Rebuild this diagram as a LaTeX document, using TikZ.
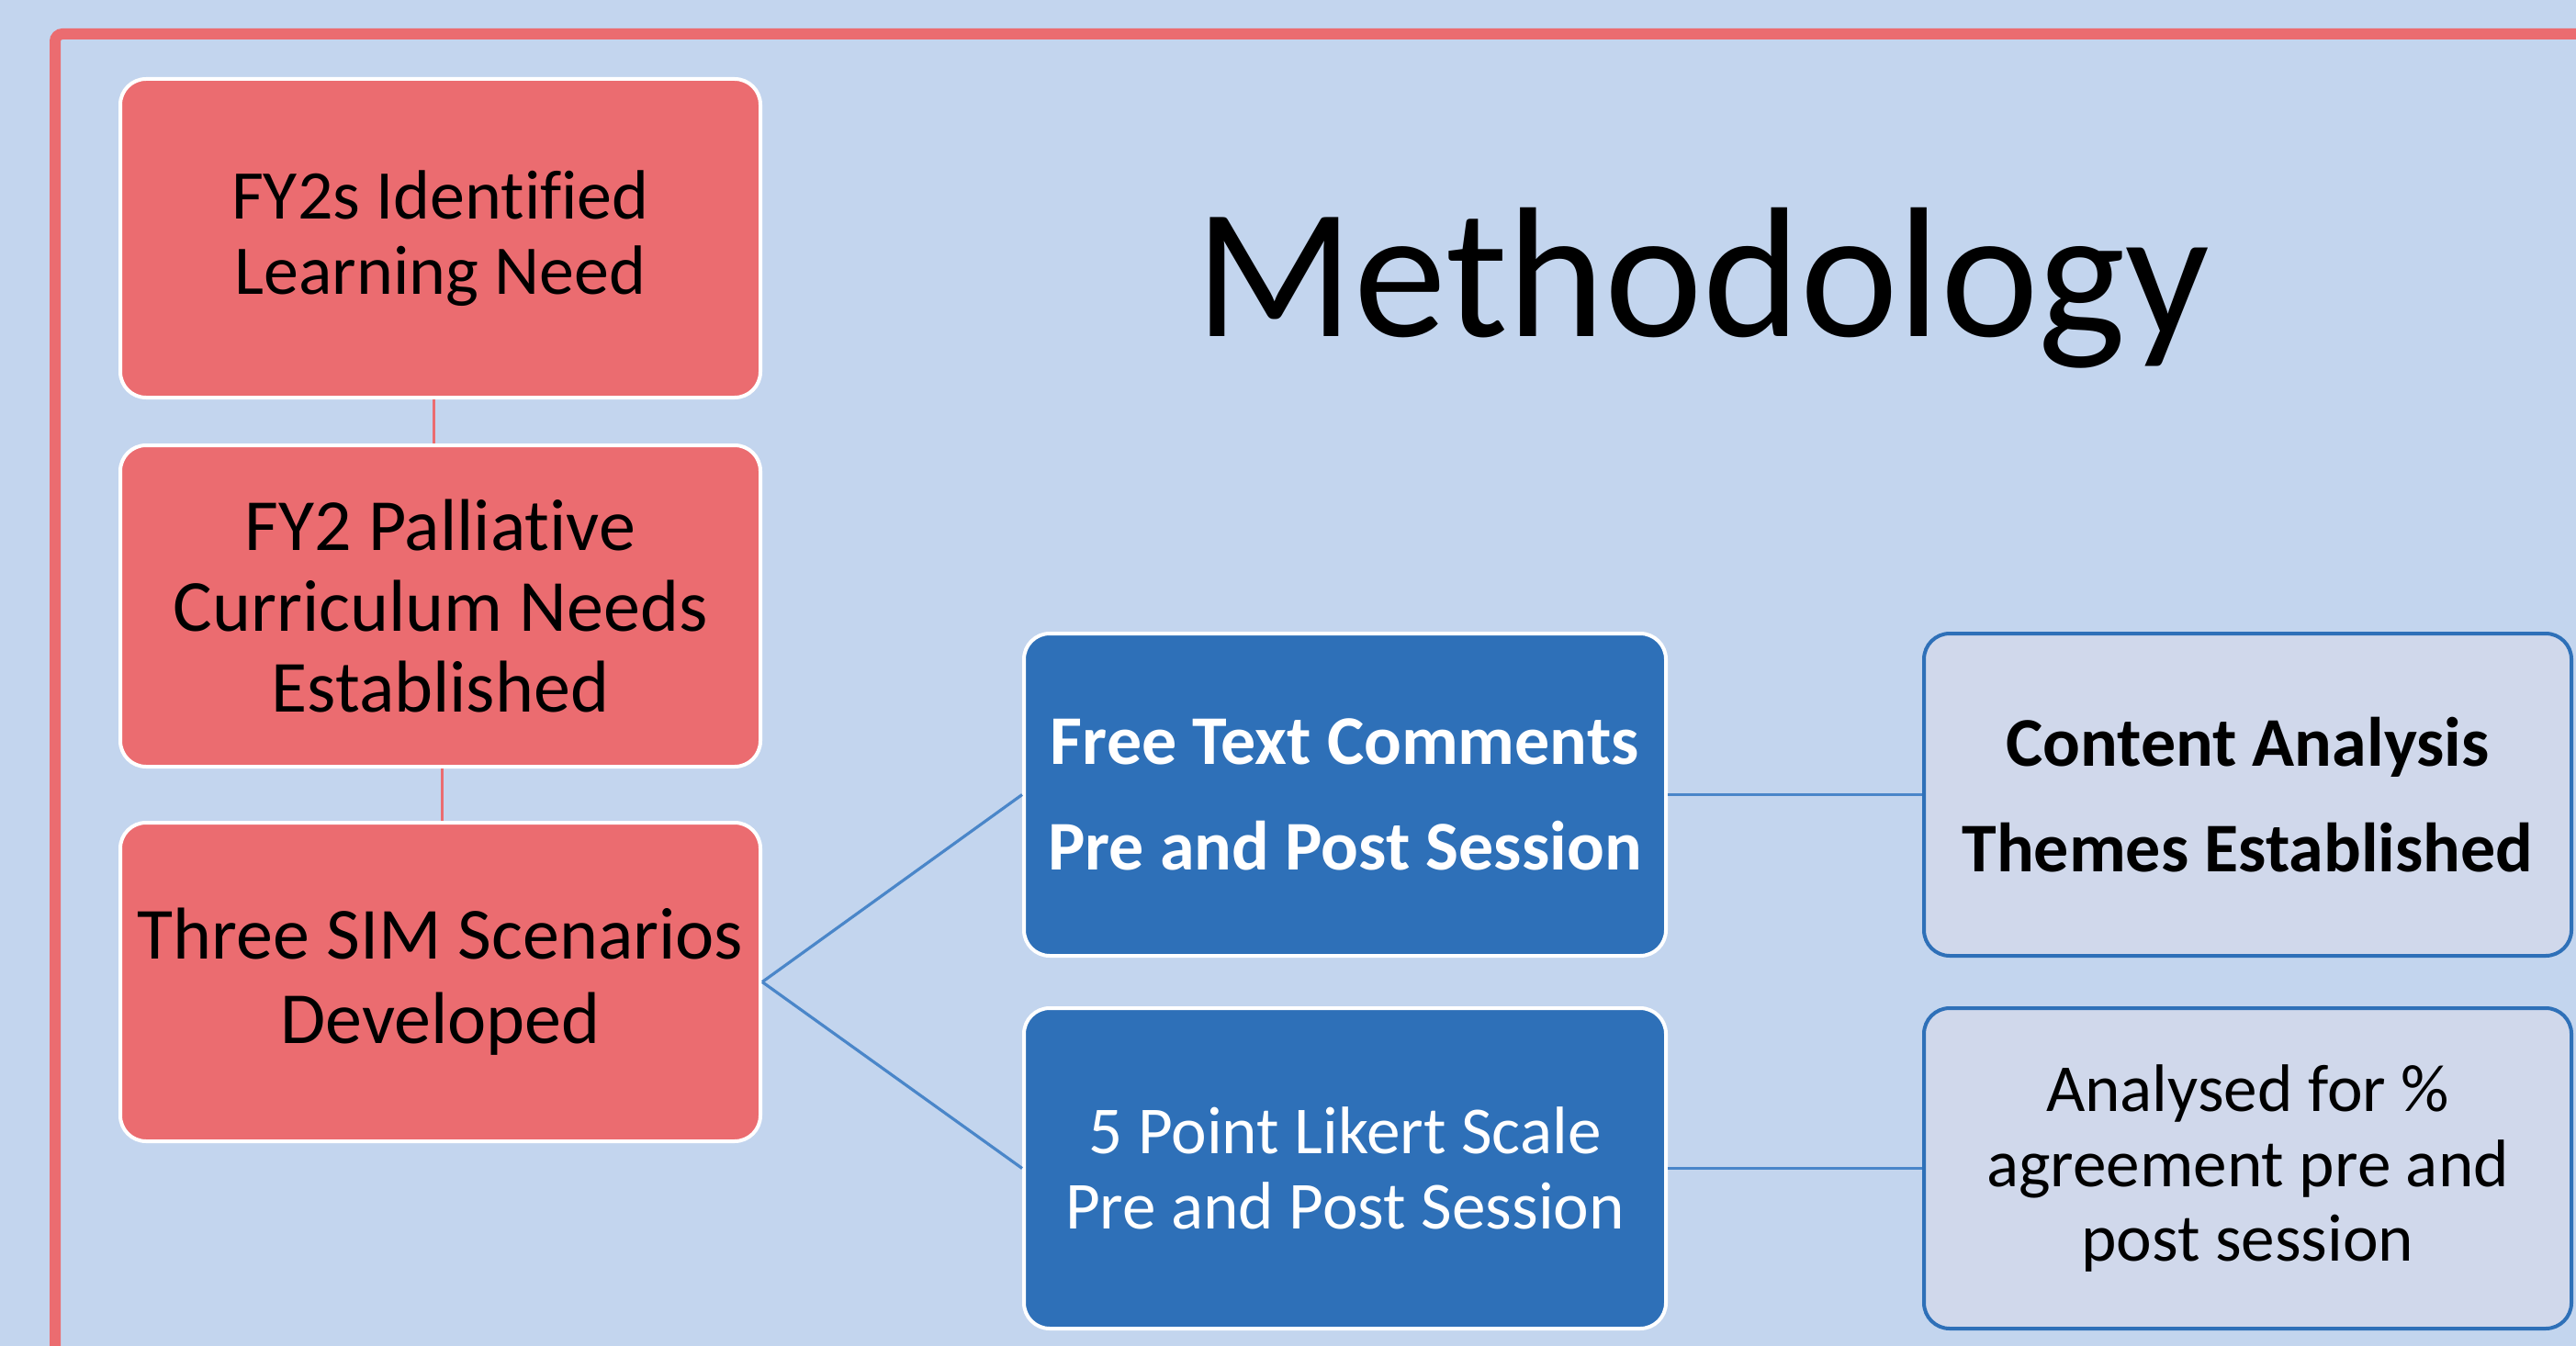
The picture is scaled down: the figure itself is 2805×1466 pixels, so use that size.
\documentclass[tikz,border=0pt]{standalone}
\usepackage{fontspec}
\setmainfont{Carlito}[Ligatures=NoCommon]
\definecolor{bgblue}{HTML}{C3D5EE}
\definecolor{pinkred}{HTML}{EB6C70}
\definecolor{darkblue}{HTML}{2E70B8}
\definecolor{lightbox}{HTML}{D0D8EB}
\definecolor{linkblue}{HTML}{4A86C9}
\tikzset{
  redbox/.style={draw=white, line width=1pt, fill=pinkred, rounded corners=7pt, inner sep=0pt, align=center, text=black},
  bluebox/.style={draw=white, line width=1pt, fill=darkblue, rounded corners=7pt, inner sep=0pt, align=center, text=white},
  litebox/.style={draw=darkblue, line width=1pt, fill=lightbox, rounded corners=7pt, inner sep=0pt, align=center, text=black},
  redlink/.style={draw=pinkred, line width=0.8pt},
  bluelink/.style={draw=linkblue, line width=0.8pt}
}
\begin{document}
\begin{tikzpicture}[x=0.25pt,y=-0.25pt]
\useasboundingbox (0,0) rectangle (2805,1466);
\fill[bgblue] (0,0) rectangle (2805,1466);
\begin{scope}
\clip (0,0) rectangle (2805,1466);
\draw[pinkred, line width=3pt, rounded corners=2pt] (60,37) rectangle (3000,1700);
\end{scope}

\node[redbox, minimum width=174.25pt, minimum height=86.75pt, font=\fontsize{19}{20.5}\selectfont] (A) at (479.5,259.5) {FY2s Identified\\Learning Need};
\node[redbox, minimum width=174.25pt, minimum height=87.5pt, font=\fontsize{20}{22}\selectfont] (B) at (479.5,660) {FY2 Palliative\\Curriculum Needs\\Established};
\node[redbox, minimum width=174.25pt, minimum height=86.75pt, font=\fontsize{20}{23}\selectfont] (C) at (479.5,1069.5) {Three SIM Scenarios\\Developed};

\node[bluebox, minimum width=174.75pt, minimum height=87.75pt, font=\bfseries\fontsize{19}{28.6}\selectfont] (D) at (1464.5,865.5) {Free Text Comments\\Pre and Post Session};
\node[bluebox, minimum width=174.75pt, minimum height=87.25pt, font=\fontsize{18.3}{20.6}\selectfont] (E) at (1464.5,1272.5) {5 Point Likert Scale\\Pre and Post Session};

\node[litebox, minimum width=176.25pt, minimum height=87.75pt, font=\bfseries\fontsize{19}{28.6}\selectfont] (F) at (2447.5,865.5) {Content Analysis\\Themes Established};
\node[litebox, minimum width=176.25pt, minimum height=87.25pt, font=\fontsize{18.3}{20.3}\selectfont] (G) at (2447.5,1272.5) {Analysed for \%\\agreement pre and\\post session};

\node[anchor=base, font=\fontsize{50.5}{60}\selectfont, text=black, inner sep=0pt] (title) at (1854,367) {Methodology};

\draw[redlink] ([xshift=-1.75pt]A.south) -- ([xshift=-1.75pt]B.north);
\draw[redlink] ([xshift=0.5pt]B.south) -- ([xshift=0.5pt]C.north);
\draw[bluelink] (C.east) -- (D.west);
\draw[bluelink] (C.east) -- (E.west);
\draw[bluelink] (D.east) -- (F.west);
\draw[bluelink] (E.east) -- (G.west);
\end{tikzpicture}
\end{document}
